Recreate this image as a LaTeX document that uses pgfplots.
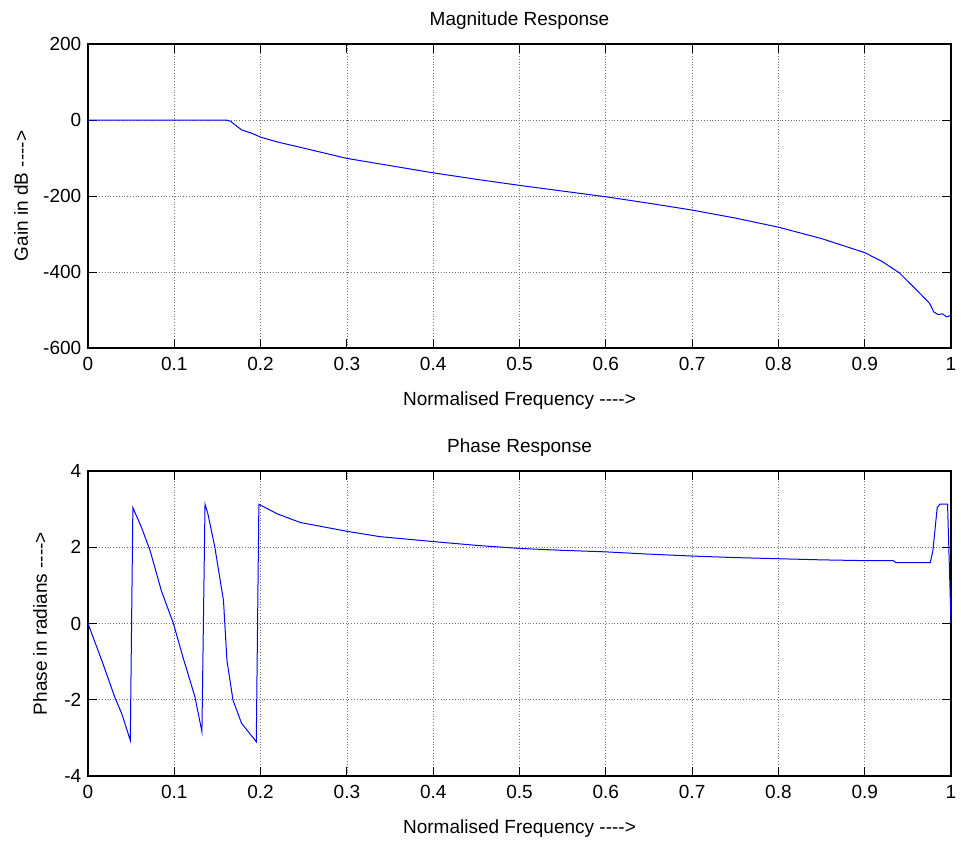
\documentclass[border=0pt]{standalone}
\usepackage{fontspec}
\setmainfont{Liberation Sans}[Ligatures=TeXOff]
\usepackage{pgfplots}
\pgfplotsset{compat=1.18}
\begin{document}
\fontsize{9.5}{11}\selectfont
\begin{tikzpicture}
\pgfplotsset{
  matlab/.style={
    scale only axis, width=431.5pt,
    xmin=0, xmax=1,
    xtick={0,0.1,...,1},
    xticklabels={0,0.1,0.2,0.3,0.4,0.5,0.6,0.7,0.8,0.9,1},
    tick align=inside, major tick length=4.3pt,
    tick style={black, line width=0.5pt},
    axis line style={line width=0.6pt},
    grid=major, major grid style={densely dotted, black!55, line width=0.4pt},
    xticklabel style={yshift=-1.3pt},
    xlabel={Normalised Frequency ---->},
    xlabel style={at={(rel axis cs:0.5,0)}, anchor=base, yshift=-28.5pt},
    every axis title shift=0pt,
    title style={at={(rel axis cs:0.5,1)}, anchor=base, yshift=9.5pt},
    no markers,
  },
}
\begin{axis}[matlab, name=top, at={(0,0)}, anchor=south west,
  height=152pt, ymin=-600, ymax=200,
  ytick={-600,-400,-200,0,200},
  yticklabels={-600,-400,-200,0,200},
  title={Magnitude Response},
  ylabel={Gain in dB ---->},
  ylabel style={at={(rel axis cs:0,0.5)}, anchor=center, yshift=33.5pt}]
\addplot[blue, line width=0.5pt] coordinates {
(0,0) (0.16,0) (0.165,-3) (0.17,-12) (0.178,-26) (0.19,-35) (0.2,-45)
(0.22,-58) (0.25,-74) (0.3,-101) (0.35,-120) (0.4,-139) (0.45,-156)
(0.5,-172) (0.55,-187) (0.6,-202) (0.65,-219) (0.7,-237) (0.75,-258)
(0.8,-282) (0.85,-312) (0.9,-349) (0.92,-372) (0.94,-402) (0.96,-447)
(0.975,-482) (0.98,-505) (0.985,-512) (0.99,-510) (0.995,-518) (1.0,-514)
};
\end{axis}
\begin{axis}[matlab, name=bot, at={(0,-214pt)}, anchor=south west,
  height=152.5pt, ymin=-4, ymax=4,
  ytick={-4,-2,0,2,4},
  yticklabels={-4,-2,0,2,4},
  title={Phase Response},
  ylabel={Phase in radians ---->},
  ylabel style={at={(rel axis cs:0,0.5)}, anchor=center, yshift=24pt}]
\addplot[blue, line width=0.5pt] coordinates {
(0,0) (0.016,-0.97) (0.031,-1.93) (0.039,-2.36) (0.049,-3.06)
(0.052,3.04) (0.062,2.52) (0.072,1.91) (0.085,0.86) (0.099,0)
(0.110,-0.88) (0.124,-1.93) (0.132,-2.84)
(0.1356,3.13) (0.139,2.87) (0.147,2.0) (0.157,0.60) (0.161,-0.97)
(0.168,-2.01) (0.178,-2.62) (0.195,-3.10)
(0.198,3.13) (0.219,2.88) (0.246,2.65) (0.3,2.42) (0.338,2.28)
(0.4,2.15) (0.45,2.05) (0.5,1.97) (0.55,1.92) (0.6,1.88) (0.65,1.82)
(0.7,1.77) (0.75,1.73) (0.8,1.70) (0.85,1.67) (0.9,1.65) (0.933,1.65)
(0.936,1.60) (0.976,1.60) (0.979,1.91) (0.984,3.04) (0.987,3.13)
(0.996,3.13) (1.0,0)
};
\end{axis}
\pgfresetboundingbox
\path (-44pt,-247.5pt) rectangle (436.5pt,174pt);
\end{tikzpicture}
\end{document}
